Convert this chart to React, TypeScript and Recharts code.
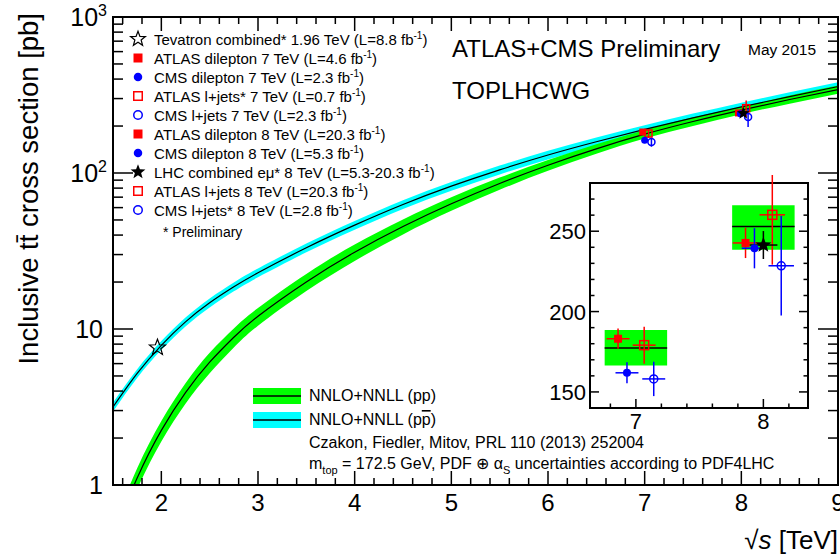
import React from "react";
import {
  ComposedChart,
  Area,
  Line,
  Scatter,
  XAxis,
  YAxis,
  ErrorBar,
  ReferenceArea,
  ReferenceLine,
} from "recharts";

const FONT = '"Liberation Sans", Arial, Helvetica, sans-serif';

// NNLO+NNLL theory
const sqrtS = [1.5, 1.75, 2, 2.25, 2.5, 2.75, 3, 3.5, 4, 4.5, 5, 5.5, 6, 6.5, 7, 7.5, 8, 8.5, 9];
const ppC = [0.468, 1.109, 2.239, 3.908, 6.124, 8.851, 12.08, 20.04, 31.05, 45.39, 63.53, 85.7, 112.2, 142.9, 177.3, 213.8, 252.9, 295.8, 342.8];
const ppLo = [0.4, 0.94, 1.9, 3.32, 5.21, 7.61, 10.51, 17.54, 27.32, 40.4, 57.18, 77.99, 103.2, 132.9, 166.5, 200.3, 238.4, 278.1, 322.2];
const ppHi = [0.54, 1.28, 2.57, 4.49, 7.04, 10.09, 13.65, 22.55, 34.78, 50.38, 69.88, 93.41, 121.2, 152.9, 188.5, 227.3, 266.2, 313.5, 363.4];
const ppbarC = [3.162, 5.188, 7.862, 11.11, 14.72, 18.64, 22.94, 33.16, 46.3, 62.81, 82.32, 104.8, 130.5, 158.7, 190.3, 225.7, 265.2, 309.0, 358.1];
const ppbarLo = [2.956, 4.851, 7.351, 10.39, 13.76, 17.43, 21.45, 31.0, 43.29, 58.73, 76.97, 97.99, 122.0, 148.4, 177.9, 211.0, 248.0, 288.9, 334.8];
const ppbarHi = [3.368, 5.525, 8.373, 11.83, 15.68, 19.85, 24.43, 35.32, 49.31, 66.89, 87.67, 111.6, 139.0, 169.0, 202.7, 240.4, 282.4, 329.1, 381.4];

// Tevatron
const tevX = [1.96];
const tevY = [7.6];

// LHC measurements
const ptName = [
  "ATLAS dilepton 7 TeV",
  "CMS dilepton 7 TeV",
  "ATLAS l+jets* 7 TeV",
  "CMS l+jets 7 TeV",
  "ATLAS dilepton 8 TeV",
  "CMS dilepton 8 TeV",
  "LHC combined e\u03bc* 8 TeV",
  "ATLAS l+jets 8 TeV",
  "CMS l+jets* 8 TeV",
];
const ptLumi = ["4.6", "2.3", "0.7", "2.3", "20.3", "5.3", "5.3-20.3", "20.3", "2.8"];
const ptKind = ["sqFilled", "circFilled", "sqOpen", "circOpen", "sqFilled", "circFilled", "starFilled", "sqOpen", "circOpen"];
const ptGroup = ["ATLAS", "CMS", "ATLAS", "CMS", "ATLAS", "CMS", "LHC", "ATLAS", "CMS"];
const ptXInset = [6.86, 6.93, 7.065, 7.14, 7.86, 7.93, 8.0, 8.07, 8.14];
const ptXMain = [6.98, 7.0, 7.04, 7.07, 7.97, 7.99, 8.02, 8.05, 8.07];
const ptSigma = [183.1, 161.9, 179.1, 158.1, 242.7, 239.4, 241.4, 260.2, 228.5];
const ptErr = [6.3, 6.5, 11.5, 10.7, 9.4, 12.5, 8.7, 31, 31];
const ptXErr = [0.09, 0.09, 0.09, 0.09, 0.1, 0.1, 0.11, 0.1, 0.1];

const groupColor: Record<string, string> = { ATLAS: "#ff0000", CMS: "#0000ff", LHC: "#000000" };
const theoryE = [7, 8];

const GREEN = "#00ff00";
const CYAN = "#00ffff";

// layout
const W = 840;
const H = 557;
const M_TOP = 17;
const M_RIGHT = 2;
const Y_W = 113;
const X_H = 72;
const PLOT_T = M_TOP;
const PLOT_R = W - M_RIGHT;

const IW = 290;
const IH = 260;
const I_MT = 8;
const I_MR = 22;
const I_YW = 50;
const I_XH = 27;
const I_PLOT_R = IW - I_MR;

const rows = sqrtS.map((x, i) => ({
  x,
  ppBand: [ppLo[i], ppHi[i]],
  ppbarBand: [ppbarLo[i], ppbarHi[i]],
  pp: ppC[i],
  ppbar: ppbarC[i],
}));

const points = ptName.map((name, i) => ({
  name,
  kind: ptKind[i],
  group: ptGroup[i],
  xi: ptXInset[i],
  xm: ptXMain[i],
  y: ptSigma[i],
  err: ptErr[i],
  xerr: ptXErr[i],
}));

const groups = ["ATLAS", "CMS", "LHC"];

const mainXTicks = Array.from({ length: 38 }, (_, k) => Math.round((1.6 + 0.2 * k) * 10) / 10);
const mainYTicks = [1, 2, 3, 4, 5, 6, 7, 8, 9, 10, 20, 30, 40, 50, 60, 70, 80, 90, 100, 200, 300, 400, 500, 600, 700, 800, 900, 1000];
const insetXTicks = [6.8, 7, 7.2, 7.4, 7.6, 7.8, 8, 8.2];
const insetYTicks = [140, 150, 160, 170, 180, 190, 200, 210, 220, 230, 240, 250, 260, 270, 280];

function starPoints(cx: number, cy: number, r: number) {
  const pts: string[] = [];
  for (let k = 0; k < 10; k++) {
    const rr = k % 2 === 0 ? r : r * 0.42;
    const a = -Math.PI / 2 + (k * Math.PI) / 5;
    pts.push(`${cx + rr * Math.cos(a)},${cy + rr * Math.sin(a)}`);
  }
  return pts.join(" ");
}

function Marker({ kind, cx, cy, s, color }: { kind: string; cx: number; cy: number; s: number; color: string }) {
  switch (kind) {
    case "sqFilled":
      return <rect x={cx - s / 2} y={cy - s / 2} width={s} height={s} fill={color} />;
    case "sqOpen":
      return <rect x={cx - s / 2} y={cy - s / 2} width={s} height={s} fill="none" stroke={color} strokeWidth={1.5} />;
    case "circFilled":
      return <circle cx={cx} cy={cy} r={s / 2} fill={color} />;
    case "circOpen":
      return <circle cx={cx} cy={cy} r={s / 2} fill="none" stroke={color} strokeWidth={1.5} />;
    case "starFilled":
      return <polygon points={starPoints(cx, cy, s * 0.6)} fill={color} />;
    case "starOpen":
      return <polygon points={starPoints(cx, cy, s * 0.6)} fill="none" stroke={color} strokeWidth={1.2} />;
    default:
      return null;
  }
}

const isInt = (v: number) => Math.abs(v - Math.round(v)) < 1e-6;

function MainXTick(props: any) {
  const { x, y, payload } = props;
  const v = payload.value;
  const major = isInt(v);
  const len = major ? 14 : 7;
  return (
    <g>
      <line x1={x} x2={x} y1={y} y2={y - len} stroke="#000" strokeWidth={1.5} />
      <line x1={x} x2={x} y1={PLOT_T} y2={PLOT_T + len} stroke="#000" strokeWidth={1.5} />
      {major && v >= 2 && (
        <text x={x} y={y + 26} textAnchor="middle" fontSize={24} fontFamily={FONT} fill="#000">
          {v}
        </text>
      )}
    </g>
  );
}

function MainYTick(props: any) {
  const { x, y, payload } = props;
  const v = payload.value;
  const e = Math.log10(v);
  const major = isInt(e);
  const len = major ? 20 : 10;
  let label: React.ReactNode = null;
  if (major) {
    const p = Math.round(e);
    label =
      p <= 1 ? (
        <text x={x - 10} y={y + 9} textAnchor="end" fontSize={25} fontFamily={FONT}>
          {p === 0 ? "1" : "10"}
        </text>
      ) : (
        <text x={x - 6} y={y + 9} textAnchor="end" fontSize={25} fontFamily={FONT}>
          10
          <tspan dy={-10} fontSize={16}>
            {p}
          </tspan>
        </text>
      );
  }
  return (
    <g>
      <line x1={x} x2={x + len} y1={y} y2={y} stroke="#000" strokeWidth={1.5} />
      <line x1={PLOT_R} x2={PLOT_R - len} y1={y} y2={y} stroke="#000" strokeWidth={1.5} />
      {label}
    </g>
  );
}

function InsetXTick(props: any) {
  const { x, y, payload } = props;
  const v = payload.value;
  const major = isInt(v);
  const len = major ? 9 : 4.5;
  return (
    <g>
      <line x1={x} x2={x} y1={y} y2={y - len} stroke="#000" strokeWidth={1.5} />
      {major && (
        <text x={x} y={y + 21} textAnchor="middle" fontSize={22} fontFamily={FONT}>
          {v}
        </text>
      )}
    </g>
  );
}

function InsetYTick(props: any) {
  const { x, y, payload } = props;
  const v = payload.value;
  const major = v % 50 === 0;
  const len = major ? 9 : 4.5;
  return (
    <g>
      <line x1={x} x2={x + len} y1={y} y2={y} stroke="#000" strokeWidth={1.5} />
      <line x1={I_PLOT_R} x2={I_PLOT_R - len} y1={y} y2={y} stroke="#000" strokeWidth={1.5} />
      {major && (
        <text x={x - 4} y={y + 8} textAnchor="end" fontSize={22} fontFamily={FONT}>
          {v}
        </text>
      )}
    </g>
  );
}

function MainChart() {
  return (
    <ComposedChart width={W} height={H} data={rows} margin={{ top: M_TOP, right: M_RIGHT, left: 0, bottom: 0 }}>
      <XAxis
        dataKey="x"
        type="number"
        domain={[1.5, 9]}
        allowDataOverflow
        ticks={mainXTicks}
        interval={0}
        tickSize={0}
        tickMargin={0}
        tickLine={false}
        axisLine={false}
        height={X_H}
        tick={(p: any) => <MainXTick {...p} />}
      />
      <YAxis
        type="number"
        scale="log"
        domain={[1, 1000]}
        allowDataOverflow
        ticks={mainYTicks}
        interval={0}
        tickSize={0}
        tickMargin={0}
        tickLine={false}
        axisLine={false}
        width={Y_W}
        tick={(p: any) => <MainYTick {...p} />}
      />
      <Area type="natural" dataKey="ppbarBand" stroke="none" fill={CYAN} fillOpacity={1} isAnimationActive={false} />
      <Area type="natural" dataKey="ppBand" stroke="none" fill={GREEN} fillOpacity={1} isAnimationActive={false} />
      <Line type="natural" dataKey="ppbar" stroke="#000" strokeWidth={1.2} dot={false} activeDot={false} isAnimationActive={false} />
      <Line type="natural" dataKey="pp" stroke="#000" strokeWidth={1.2} dot={false} activeDot={false} isAnimationActive={false} />
      <Scatter
        data={tevX.map((x, i) => ({ x, y: tevY[i] }))}
        dataKey="y"
        isAnimationActive={false}
        shape={(p: any) => <Marker kind="starOpen" cx={p.cx} cy={p.cy} s={14} color="#000" />}
      />
      {groups.map((g) => (
        <Scatter
          key={g}
          data={points.filter((p) => p.group === g).map((p) => ({ x: p.xm, y: p.y, err: p.err, kind: p.kind }))}
          dataKey="y"
          isAnimationActive={false}
          shape={(p: any) => <Marker kind={p.payload.kind} cx={p.cx} cy={p.cy} s={p.payload.kind === "starFilled" ? 11 : 7} color={groupColor[g]} />}
        >
          <ErrorBar dataKey="err" direction="y" width={0} stroke={groupColor[g]} strokeWidth={1.5} />
        </Scatter>
      ))}
      <ReferenceArea x1={1.5} x2={9} y1={1} y2={1000} fill="none" stroke="#000" strokeWidth={2} ifOverflow="visible" />
    </ComposedChart>
  );
}

function InsetChart() {
  return (
    <ComposedChart width={IW} height={IH} margin={{ top: I_MT, right: I_MR, left: 0, bottom: 0 }}>
      <XAxis
        dataKey="x"
        type="number"
        domain={[6.64, 8.35]}
        allowDataOverflow
        ticks={insetXTicks}
        interval={0}
        tickSize={0}
        tickMargin={0}
        tickLine={false}
        axisLine={false}
        height={I_XH}
        tick={(p: any) => <InsetXTick {...p} />}
      />
      <YAxis
        type="number"
        domain={[140, 280]}
        allowDataOverflow
        ticks={insetYTicks}
        interval={0}
        tickSize={0}
        tickMargin={0}
        tickLine={false}
        axisLine={false}
        width={I_YW}
        tick={(p: any) => <InsetYTick {...p} />}
      />
      <ReferenceArea x1={6.64} x2={8.35} y1={140} y2={280} fill="#fff" fillOpacity={1} stroke="none" ifOverflow="visible" />
      {theoryE.map((e) => {
        const i = sqrtS.indexOf(e);
        return (
          <ReferenceArea key={`b${e}`} x1={e - 0.245} x2={e + 0.245} y1={ppLo[i]} y2={ppHi[i]} fill={GREEN} fillOpacity={1} stroke="none" ifOverflow="visible" />
        );
      })}
      {theoryE.map((e) => {
        const i = sqrtS.indexOf(e);
        return (
          <ReferenceLine
            key={`l${e}`}
            segment={[
              { x: e - 0.245, y: ppC[i] },
              { x: e + 0.245, y: ppC[i] },
            ]}
            stroke="#000"
            strokeWidth={1.5}
          />
        );
      })}
      {groups.map((g) => (
        <Scatter
          key={g}
          data={points.filter((p) => p.group === g).map((p) => ({ x: p.xi, y: p.y, err: p.err, xerr: p.xerr, kind: p.kind }))}
          dataKey="y"
          isAnimationActive={false}
          shape={(p: any) => (
            <Marker
              kind={p.payload.kind}
              cx={p.cx}
              cy={p.cy}
              s={p.payload.kind === "starFilled" ? 14 : p.payload.kind === "sqOpen" ? 9 : 8}
              color={groupColor[g]}
            />
          )}
        >
          <ErrorBar dataKey="err" direction="y" width={0} stroke={groupColor[g]} strokeWidth={1.5} />
          <ErrorBar dataKey="xerr" direction="x" width={0} stroke={groupColor[g]} strokeWidth={1.5} />
        </Scatter>
      ))}
      <ReferenceArea x1={6.64} x2={8.35} y1={140} y2={280} fill="none" stroke="#000" strokeWidth={2} ifOverflow="visible" />
    </ComposedChart>
  );
}

function Overlay() {
  const legendRows = [
    { kind: "starOpen", color: "#000", name: "Tevatron combined* 1.96 TeV", lumi: "8.8" },
    ...points.map((p, i) => ({ kind: p.kind, color: groupColor[p.group], name: p.name, lumi: ptLumi[i] })),
  ];
  return (
    <svg width={W} height={H} style={{ position: "absolute", left: 0, top: 0, pointerEvents: "none" }} fontFamily={FONT}>
      {legendRows.map((r, i) => {
        const cy = 39 + i * 19;
        const s = r.kind.startsWith("star") ? 13 : r.kind === "sqFilled" ? 9 : 8.5;
        return (
          <g key={i}>
            <Marker kind={r.kind} cx={138} cy={cy} s={s} color={r.color} />
            <text x={154} y={cy + 5.5} fontSize={15}>
              {`${r.name} (L=${r.lumi} fb`}
              <tspan dy={-6} fontSize={10}>
                -1
              </tspan>
              <tspan dy={6}>)</tspan>
            </text>
          </g>
        );
      })}
      <text x={163} y={237} fontSize={14}>
        * Preliminary
      </text>

      <text x={452} y={57} fontSize={24}>
        ATLAS+CMS Preliminary
      </text>
      <text x={748} y={55} fontSize={15.5}>
        May 2015
      </text>
      <text x={452} y={99} fontSize={24}>
        TOPLHCWG
      </text>

      <rect x={253} y={388} width={48} height={16} fill={GREEN} />
      <line x1={253} x2={301} y1={396} y2={396} stroke="#000" strokeWidth={1.5} />
      <text x={309} y={401} fontSize={16}>
        NNLO+NNLL (pp)
      </text>
      <rect x={253} y={412} width={48} height={16} fill={CYAN} />
      <line x1={253} x2={301} y1={420} y2={420} stroke="#000" strokeWidth={1.5} />
      <text x={309} y={425} fontSize={16}>
        NNLO+NNLL (p<tspan textDecoration="overline" style={{ textDecoration: "overline" }}>p</tspan>)
      </text>
      <text x={309} y={448} fontSize={16}>
        Czakon, Fiedler, Mitov, PRL 110 (2013) 252004
      </text>
      <text x={309} y={469} fontSize={16}>
        m
        <tspan dy={5} fontSize={11}>
          top
        </tspan>
        <tspan dy={-5}> = 172.5 GeV, PDF </tspan>
        <tspan>{"\u2295 \u03b1"}</tspan>
        <tspan dy={5} fontSize={11}>
          S
        </tspan>
        <tspan dy={-5}> uncertainties according to PDF4LHC</tspan>
      </text>

      <text x={38} y={13} fontSize={27.5} textAnchor="end" transform="rotate(-90 38 13)">
        Inclusive t{"t\u0304"} cross section [pb]
      </text>
      <text x={838} y={549} fontSize={26} textAnchor="end">
        {"\u221a"}
        <tspan fontStyle="italic">s</tspan> [TeV]
      </text>
    </svg>
  );
}

export default function App() {
  return (
    <div style={{ position: "absolute", left: 0, top: 0, width: W, height: H, background: "#fff", fontFamily: FONT }}>
      <MainChart />
      <div style={{ position: "absolute", left: 540, top: 175, width: IW, height: IH }}>
        <InsetChart />
      </div>
      <Overlay />
    </div>
  );
}
